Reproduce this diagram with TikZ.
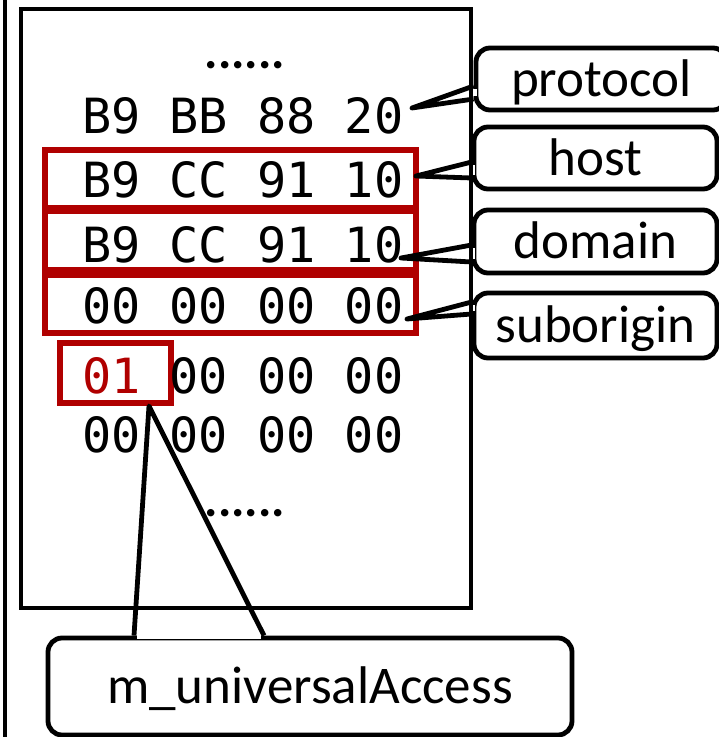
\documentclass[tikz,border=0pt]{standalone}
\usepackage{fontspec}
\setmainfont{Carlito}
\newfontfamily\hexfont{DejaVu Sans Mono}
\usetikzlibrary{shadows,calc}
\definecolor{boxred}{RGB}{176,0,0}
\begin{document}
\begin{tikzpicture}[x=1pt,y=-1pt,
  frame/.style={draw=black,line width=4.8pt},
  redbox/.style={draw=boxred,line width=6pt,fill=white,
    drop shadow={opacity=0.22,shadow xshift=1pt,shadow yshift=-2.5pt}},
  hexrow/.style={anchor=base west,inner sep=0pt,
    font=\hexfont\fontsize{48.5}{48.5}\selectfont},
  dots/.style={anchor=base,inner sep=0pt,font=\bfseries\fontsize{50}{50}\selectfont},
  label/.style={draw=black,line width=4.8pt,fill=white,rounded corners=14pt,
    inner sep=0pt,text height=34pt,text depth=0pt,
    font=\fontsize{53}{53}\selectfont},
  ptr/.style={draw=black,line width=4.8pt,line join=round}
]
\useasboundingbox (0,0) rectangle (719,737);
\fill[white] (0,0) rectangle (719,737);

% left border line
\draw[line width=4.8pt] (5,0) -- (5,737);

% highlighted fields
\node[redbox,minimum width=371,minimum height=58] (hostbox) at (230.5,179) {};
\node[redbox,minimum width=371,minimum height=59] (domainbox) at (230.5,240.5) {};
\node[redbox,minimum width=371,minimum height=58] (subbox) at (230.5,304) {};
\node[redbox,minimum width=111,minimum height=60] (accbox) at (115.5,373) {};

% memory dump rows
\node[dots] (dtop) at (245,68.5) {......};
\node[hexrow] (r1) at (82,133) {B9 BB 88 20};
\node[hexrow] (r2) at (82,197) {B9 CC 91 10};
\node[hexrow] (r3) at (82,262) {B9 CC 91 10};
\node[hexrow] (r4) at (82,323) {00 00 00 00};
\node[hexrow] (r5) at (82,393) {\textcolor{boxred}{01} 00 00 00};
\node[hexrow] (r6) at (82,452) {00 00 00 00};
\node[dots] (dbot) at (245,516.5) {......};

% field labels
\node[label,minimum width=251,minimum height=62] (protocol) at (601.5,79) {protocol};
\node[label,minimum width=243,minimum height=62] (host) at (595.5,158) {host};
\node[label,minimum width=243,minimum height=63] (domain) at (595.5,241.5) {domain};
\node[label,minimum width=243,minimum height=65] (suborigin) at (595.5,325.5) {suborigin};
\node[label,minimum width=524,minimum height=97] (access) at (310,686.5) {m\_universalAccess};

% pointer tips
\coordinate (tprotocol) at (412,108);
\coordinate (thost) at (416,176);
\coordinate (tdomain) at (401,258);
\coordinate (tsub) at (407,319);
\coordinate (taccess) at (149,406);

% open the label borders where the pointers leave them
\fill[white] ($(protocol.west |- 0,86)+(-3,3)$) rectangle ($(protocol.west |- 0,99)+(3.5,-3)$);
\fill[white] ($(host.west |- 0,162)+(-3,3)$) rectangle ($(host.west |- 0,178)+(3.5,-3)$);
\fill[white] ($(domain.west |- 0,245)+(-3,3)$) rectangle ($(domain.west |- 0,262)+(3.5,-3)$);
\fill[white] ($(suborigin.west |- 0,302)+(-3,3)$) rectangle ($(suborigin.west |- 0,314)+(3.5,-3)$);
\fill[white] ($(access.north -| 134,0)+(3,-3.5)$) rectangle ($(access.north -| 264,0)+(-3,3)$);

% pointers
\draw[ptr] (protocol.west |- 0,86) -- (tprotocol) -- (protocol.west |- 0,99);
\draw[ptr] (host.west |- 0,162) -- (thost) -- (host.west |- 0,178);
\draw[ptr] (domain.west |- 0,245) -- (tdomain) -- (domain.west |- 0,262);
\draw[ptr] (suborigin.west |- 0,302) -- (tsub) -- (suborigin.west |- 0,314);
\draw[ptr] (access.north -| 134,0) -- (taccess) -- (access.north -| 264,0);

% memory block frame
\node[frame,minimum width=450,minimum height=599,inner sep=0pt] (mem) at (246,308.5) {};
\end{tikzpicture}
\end{document}
